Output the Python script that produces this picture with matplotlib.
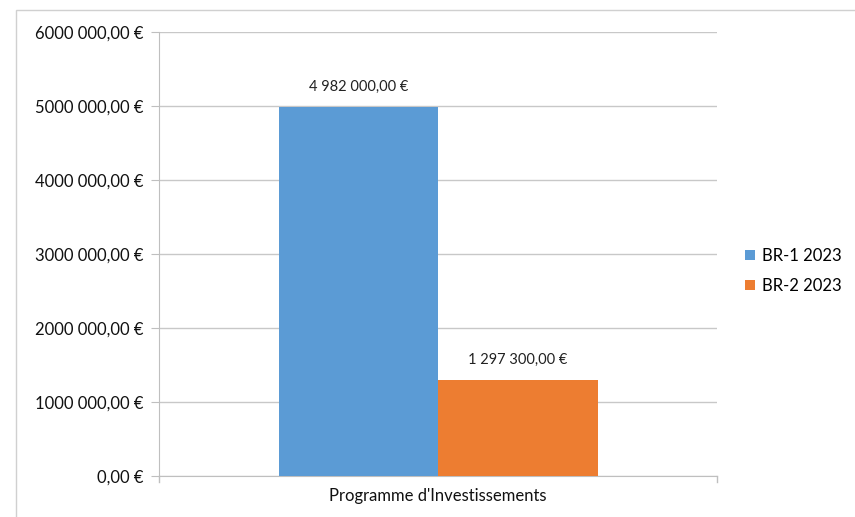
import matplotlib.pyplot as plt
from matplotlib.patches import Rectangle

plt.rcParams['font.family'] = ['Lato', 'DejaVu Sans']

category = "Programme d'Investissements"
series = ["BR-1 2023", "BR-2 2023"]
values = [4982000.00, 1297300.00]
colors = ["#5B9BD5", "#ED7D31"]
yticks = [0, 1000000, 2000000, 3000000, 4000000, 5000000, 6000000]


def euro(v):
    # French style: space thousands, comma decimal
    s = f"{v:,.2f}".replace(",", " ").replace(".", ",")
    return s + " €"


def axis_euro(v):
    if v == 0:
        return "0,00 €"
    s = f"{int(v):d}"
    head, tail = s[:-6], s[-6:]
    return f"{head}{tail[:3]} {tail[3:]},00 €"


fig = plt.figure(figsize=(8.55, 5.17), dpi=100)
ax = fig.add_axes([159 / 855, 1 - 476 / 517, (717 - 159) / 855, (476 - 32) / 517])

# chart border
fig.patches.append(Rectangle((16 / 855, -0.01), 1.0, 1 - 10 / 517 + 0.01,
                             transform=fig.transFigure, fill=False,
                             edgecolor="#d0d0d0", linewidth=1))

width = 319 / 558 / 2
offsets = [-width / 2, width / 2]
for name, v, c, off in zip(series, values, colors, offsets):
    ax.bar(0.5 + off, v, width=width, color=c, label=name, zorder=3)
    ax.text(0.5 + off, v + 180000, euro(v), ha="center", va="bottom",
            fontsize=10.5, color="#222222")

ax.set_xlim(0, 1)
ax.set_ylim(0, 6000000)
ax.set_yticks(yticks)
ax.set_yticklabels([axis_euro(t) for t in yticks], fontsize=12, color="#111111")
ax.set_xticks([0.5])
ax.set_xticklabels([category], fontsize=12, color="#111111")
ax.tick_params(axis="x", length=0, pad=9)
ax.tick_params(axis="y", length=6, color="#bfbfbf", pad=5)

ax.grid(axis="y", color="#c8c8c8", linewidth=1, zorder=0)
for s in ["top", "right"]:
    ax.spines[s].set_visible(False)
ax.spines["left"].set_color("#bfbfbf")
ax.spines["bottom"].set_color("#bfbfbf")

# small end ticks on the x axis
for xe in [0, 1]:
    ax.plot([xe, xe], [0, -80000], color="#bfbfbf", lw=1, clip_on=False)

leg = ax.legend(loc="center left", bbox_to_anchor=(1.024, 0.462), frameon=False,
                fontsize=12, handlelength=0.6, handleheight=0.6,
                handletextpad=0.4, labelspacing=0.85)

fig.savefig("out.png", dpi=100)
